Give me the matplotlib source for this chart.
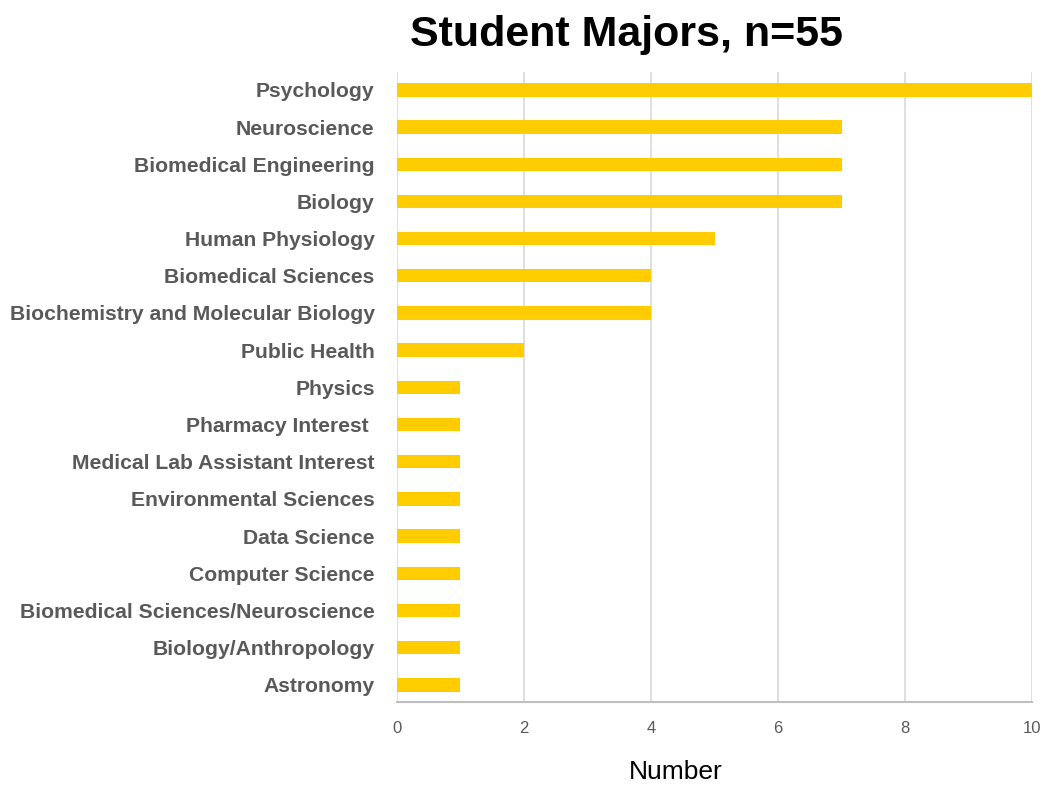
import matplotlib.pyplot as plt

# majors, listed bottom to top
majors = [
    "Astronomy",
    "Biology/Anthropology",
    "Biomedical Sciences/Neuroscience",
    "Computer Science",
    "Data Science",
    "Environmental Sciences",
    "Medical Lab Assistant Interest",
    "Pharmacy Interest ",
    "Physics",
    "Public Health",
    "Biochemistry and Molecular Biology",
    "Biomedical Sciences",
    "Human Physiology",
    "Biology",
    "Biomedical Engineering",
    "Neuroscience",
    "Psychology",
]
counts = [1, 1, 1, 1, 1, 1, 1, 1, 1, 2, 4, 4, 5, 7, 7, 7, 10]
xticks = [0, 2, 4, 6, 8, 10]

plt.rcParams['font.family'] = ['Liberation Sans', 'DejaVu Sans']

fig = plt.figure(figsize=(10.43, 7.85), dpi=100)
ax = fig.add_axes([0.3806, 0.1057, 0.6089, 0.8026])

ax.barh(range(len(majors)), counts, height=0.36, color='#FFCC00', zorder=3)

ax.set_xlim(0, 10)
ax.set_ylim(-0.46, 16.48)
ax.set_xticks(xticks)
ax.set_xticklabels([str(t) for t in xticks], fontsize=12, color='#595959')
ax.set_yticks(range(len(majors)))
ax.set_yticklabels(majors, fontsize=15.2, fontweight='bold', color='#595959')
ax.tick_params(axis='both', length=0)
ax.tick_params(axis='x', pad=14)
ax.tick_params(axis='y', pad=16)

ax.grid(axis='x', color='#d9d9d9', linewidth=1.2, zorder=0)
for s in ['top', 'right', 'left']:
    ax.spines[s].set_visible(False)
ax.spines['bottom'].set_color('#bfbfbf')
ax.spines['bottom'].set_linewidth(1.5)

fig.text(0.601, 0.956, "Student Majors, n=55", ha='center', va='center',
         fontsize=31, fontweight='bold', color='black')
fig.text(0.648, 0.001, "Number", ha='center', va='bottom', fontsize=19, color='black')

plt.savefig('out.png')
